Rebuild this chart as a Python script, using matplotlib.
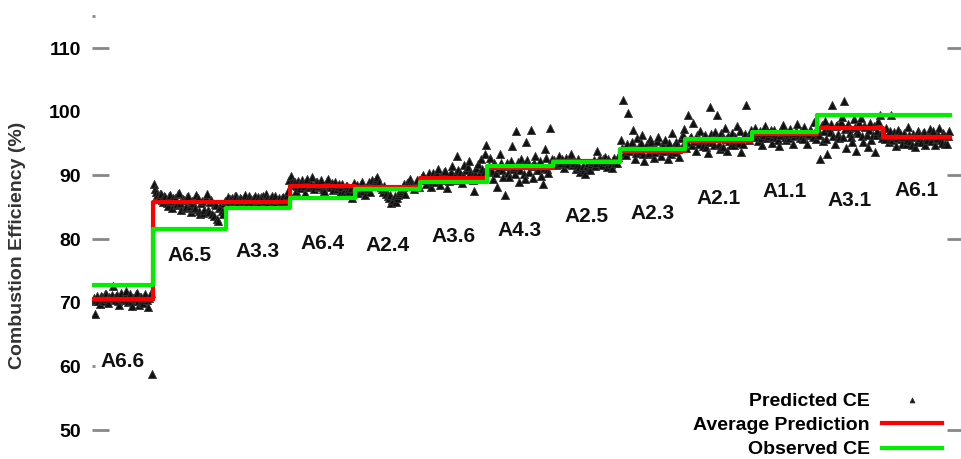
import numpy as np
import matplotlib.pyplot as plt

plt.rcParams['font.family'] = ['Liberation Sans', 'DejaVu Sans']

# test conditions, in run order
tests = ['A6.6', 'A6.5', 'A3.3', 'A6.4', 'A2.4', 'A3.6', 'A4.3',
         'A2.5', 'A2.3', 'A2.1', 'A1.1', 'A3.1', 'A6.1']
# number of samples recorded for each test
n_samples = [61, 73, 64, 65, 65, 67, 66, 67, 65, 67, 65, 66, 67]

observed_ce = [72.8, 81.6, 84.9, 86.4, 87.9, 89.0, 91.5,
               92.1, 94.1, 95.7, 96.8, 99.5, 99.5]
avg_pred = [70.6, 85.8, 85.8, 88.3, 88.2, 89.6, 91.2,
            92.2, 93.9, 95.4, 96.5, 97.4, 96.0]

# predicted CE per test (subsampled)
pred_a66 = [70.2, 70.8, 68.2, 70.5, 71.0, 70.2, 69.8, 71.1, 70.9, 70.4, 70.3, 71.3, 71.4, 70.6,
            69.9, 70.9, 70.8, 71.2, 72.6, 70.7, 70.4, 71.0, 71.2, 70.3, 69.7, 70.8, 71.5, 70.5,
            70.6, 71.1, 71.9, 70.4, 70.1, 70.9, 71.3, 70.2, 69.5, 70.8, 70.7, 71.4, 71.6, 70.3,
            69.6, 70.9, 70.9, 70.1, 70.0, 70.7, 71.4, 70.4, 69.4, 70.8, 71.0, 71.5, 58.8]
pred_a65 = [88.6, 87.8, 87.4, 86.9, 86.3, 87.1, 87.0, 86.2, 85.8, 86.7, 86.6, 85.6, 85.2, 86.8,
            86.9, 85.9, 84.8, 86.5, 86.4, 85.3, 85.5, 87.0, 87.2, 85.7, 84.6, 86.3, 86.1, 84.9,
            85.0, 86.6, 86.8, 85.2, 84.2, 86.0, 85.7, 84.7, 84.9, 86.9, 86.5, 84.4, 84.0, 85.6,
            85.9, 84.1, 84.5, 86.4, 87.1, 84.6, 84.3, 85.8, 86.2, 83.9, 83.6, 85.5, 85.4, 83.2,
            82.8, 84.8, 85.0, 84.4, 83.9, 85.7, 86.0]
pred_a33 = [86.2, 86.6, 85.7, 86.3, 86.5, 86.0, 85.9, 86.7, 86.8, 86.2, 85.6, 86.4, 86.3, 85.8,
            86.0, 86.5, 86.9, 86.1, 85.8, 86.7, 86.4, 85.9, 85.5, 86.3, 86.7, 86.0, 86.1, 86.6,
            85.7, 86.2, 86.6, 86.8, 86.0, 85.9, 87.1, 86.4, 85.8, 86.1, 86.4, 86.7, 85.9, 86.3,
            86.8, 85.8, 86.2, 86.5, 85.7, 86.0, 86.5, 86.6, 86.0, 86.3, 86.9, 87.6, 89.3]
pred_a64 = [89.9, 89.0, 88.5, 88.9, 87.6, 88.4, 89.1, 88.6, 88.0, 89.2, 88.8, 88.3, 87.3, 88.9,
            89.4, 88.1, 88.2, 88.7, 89.7, 88.4, 87.8, 89.0, 88.9, 88.2, 88.4, 88.7, 89.2, 87.9,
            87.5, 88.5, 88.6, 89.1, 89.5, 88.3, 88.1, 88.8, 87.7, 88.5, 89.0, 87.9, 88.3, 88.6,
            87.2, 88.1, 88.7, 87.6, 86.9, 88.3, 88.4, 87.8, 87.6, 88.0, 86.5, 87.4, 88.8]
pred_a24 = [88.0, 88.5, 87.2, 88.1, 88.6, 88.9, 87.6, 88.2, 86.9, 87.8, 88.3, 88.9, 87.4, 88.5,
            89.2, 89.0, 88.7, 89.4, 89.8, 88.6, 88.9, 88.2, 87.8, 87.4, 88.4, 87.9, 87.1, 86.8,
            86.4, 86.9, 85.6, 86.1, 86.2, 86.7, 85.8, 86.5, 86.9, 87.3, 87.5, 87.9, 88.2, 88.6,
            87.0, 88.3, 88.8, 89.1, 89.5, 88.9, 88.6, 88.3, 87.9, 88.7, 89.3, 88.5, 88.1]
pred_a36 = [89.3, 89.8, 90.1, 89.5, 88.6, 89.2, 89.8, 90.3, 88.2, 89.0, 90.4, 89.7, 89.0, 90.2,
            91.0, 89.4, 88.5, 89.9, 89.6, 90.5, 90.7, 89.3, 88.0, 89.1, 89.9, 90.6, 91.4, 89.8,
            89.2, 90.4, 93.0, 90.9, 90.3, 89.5, 88.8, 90.0, 91.7, 90.8, 89.5, 91.3, 92.2, 90.4,
            90.0, 89.2, 87.6, 90.2, 91.2, 91.8, 89.4, 90.5, 92.6, 91.0, 90.6, 93.4, 94.8]
pred_a43 = [90.5, 91.4, 92.8, 90.7, 89.4, 91.9, 91.6, 90.3, 88.2, 91.1, 93.4, 92.0, 90.9, 89.8,
            86.9, 91.5, 92.0, 90.4, 89.7, 92.3, 94.6, 91.0, 91.3, 90.2, 96.9, 92.1, 89.0, 90.8,
            92.5, 91.6, 90.2, 89.5, 95.3, 92.4, 91.8, 90.6, 97.1, 91.4, 89.6, 92.0, 93.1, 90.9,
            90.8, 91.7, 92.3, 89.9, 88.6, 91.2, 94.1, 92.7, 91.0, 90.3, 97.4, 91.8, 92.6]
pred_a25 = [92.4, 92.0, 91.6, 92.3, 93.0, 91.8, 92.0, 92.6, 91.2, 91.9, 92.7, 92.2, 91.8, 92.5,
            93.3, 91.7, 92.2, 92.0, 91.0, 91.6, 92.6, 91.3, 90.6, 91.2, 91.5, 90.9, 90.2, 91.4,
            91.9, 91.1, 90.8, 91.8, 92.1, 92.4, 91.4, 92.0, 93.9, 92.6, 92.5, 91.9, 91.7, 92.5,
            92.9, 92.1, 91.3, 92.6, 92.3, 91.8, 91.1, 92.4, 92.8, 92.0, 91.9, 92.9, 93.2]
pred_a23 = [95.6, 94.3, 101.8, 93.7, 93.2, 94.9, 99.8, 93.9, 94.5, 95.3, 97.1, 94.1, 92.6, 93.5,
            95.9, 94.6, 93.8, 95.1, 96.4, 93.4, 92.2, 94.5, 94.9, 93.3, 93.5, 95.7, 95.2, 94.2,
            92.8, 93.6, 94.2, 95.4, 96.0, 94.0, 93.1, 94.8, 94.7, 93.9, 95.5, 94.4, 92.5, 95.1,
            94.0, 93.3, 96.7, 94.6, 93.6, 95.2, 95.0, 94.1, 92.9, 95.8, 94.4, 96.3, 97.3]
pred_a21 = [94.3, 95.2, 99.5, 95.8, 96.1, 94.7, 98.2, 95.4, 93.8, 96.3, 95.7, 94.9, 97.0, 95.6,
            94.6, 96.0, 96.4, 94.4, 93.5, 95.3, 100.7, 96.5, 95.2, 94.8, 96.8, 95.9, 99.5, 95.0,
            94.1, 96.7, 95.9, 94.5, 97.4, 95.7, 93.9, 96.2, 95.4, 94.8, 96.6, 95.5, 94.8, 96.1,
            97.8, 95.3, 95.1, 96.9, 93.7, 95.0, 96.2, 96.5, 101.0, 95.8, 95.6, 96.3, 97.2]
pred_a11 = [96.3, 96.8, 97.5, 96.1, 95.4, 96.6, 96.9, 95.8, 94.8, 96.4, 97.8, 96.9, 95.9, 96.2,
            96.6, 97.1, 95.1, 96.0, 97.2, 96.5, 96.0, 95.6, 94.6, 96.3, 96.8, 97.4, 97.9, 96.1,
            95.5, 96.7, 96.4, 95.9, 97.3, 96.5, 95.0, 96.2, 96.7, 97.0, 98.1, 96.4, 95.8, 96.9,
            96.2, 95.7, 97.6, 96.6, 94.9, 96.3, 96.5, 97.1, 97.0, 96.0, 98.4, 96.8, 95.7]
pred_a31 = [97.2, 96.4, 92.6, 97.9, 95.4, 96.9, 98.6, 95.7, 93.4, 97.5, 96.8, 98.1, 101.0, 96.2,
            94.9, 97.7, 97.9, 96.5, 95.9, 98.4, 99.2, 96.0, 101.7, 97.3, 94.3, 98.0, 97.4, 96.6,
            96.1, 95.3, 98.8, 97.6, 93.9, 96.9, 96.6, 98.3, 99.0, 96.2, 95.2, 97.8, 97.6, 96.4,
            94.5, 97.1, 98.2, 95.6, 96.4, 97.7, 93.7, 96.3, 97.0, 98.5, 99.4, 96.7, 95.8]
pred_a61 = [96.3, 95.7, 97.4, 96.4, 95.2, 96.9, 99.4, 95.5, 96.8, 96.2, 94.6, 95.8, 97.1, 96.6,
            95.7, 95.0, 96.0, 96.7, 94.9, 95.6, 97.6, 96.3, 95.4, 94.8, 96.5, 96.1, 94.4, 95.3,
            97.0, 96.5, 95.9, 95.2, 96.7, 96.8, 94.8, 95.9, 95.6, 96.3, 97.3, 95.4, 96.2, 96.9,
            94.7, 95.7, 95.8, 96.4, 97.5, 95.5, 95.1, 96.6, 96.4, 95.0, 94.9, 96.2, 96.9]

predicted = [pred_a66, pred_a65, pred_a33, pred_a64, pred_a24, pred_a36, pred_a43,
             pred_a25, pred_a23, pred_a21, pred_a11, pred_a31, pred_a61]

# where the test name sits under each block
label_y = [60.8, 77.4, 78.0, 79.3, 79.0, 80.4, 81.3, 83.5, 84.0, 86.4, 87.5, 86.0, 87.6]

edges = np.concatenate([[0], np.cumsum(n_samples)])

fig = plt.figure(figsize=(9.61, 4.59), dpi=100)
ax = fig.add_axes([92 / 961, 0, 872 / 961, 1])

xs = [np.linspace(edges[i] + 1, edges[i + 1] - 1, len(v)) for i, v in enumerate(predicted)]
ax.scatter(np.concatenate(xs), np.concatenate(predicted), marker='^', s=34, c='#111111',
           edgecolors='#333333', linewidths=0.6, label='Predicted CE', zorder=2)

ax.step(edges, np.append(avg_pred, avg_pred[-1]), where='post', color='#ff0000',
        lw=3, label='Average Prediction', zorder=3)
ax.step(edges, np.append(observed_ce, observed_ce[-1]), where='post', color='#00ee00',
        lw=3, label='Observed CE', zorder=4)

for i, name in enumerate(tests):
    ax.text((edges[i] + edges[i + 1]) / 2, label_y[i], name, ha='center', va='center',
            fontsize=15, fontweight='bold', color='#111111')

ax.set_xlim(0, 872)
ax.set_ylim(45.45, 117.54)
for s in ax.spines.values():
    s.set_visible(False)
ax.set_xticks([])

yticks = [50, 60, 70, 80, 90, 100, 110]
ax.set_yticks(yticks)
ax.set_yticks([115], minor=True)
ax.tick_params(axis='y', which='major', direction='in', length=12, width=2,
               color='#888888', labelsize=14, pad=8, right=True)
ax.tick_params(axis='y', which='minor', direction='in', length=2.5, width=2,
               color='#888888', labelleft=False)
for lbl in ax.get_yticklabels():
    lbl.set_fontweight('bold')
for val, tick in zip(yticks, ax.yaxis.get_major_ticks()):
    if val == 100:
        tick.tick1line.set_visible(False)
    if val == 60:
        tick.tick1line.set_markersize(2.5)
    if val in (60, 70, 100):
        tick.tick2line.set_visible(False)

fig.text(18 / 961, 1 - 245 / 459, 'Combustion Efficiency (%)', rotation=90,
         ha='center', va='center', fontsize=14, fontweight='bold', color='#333333')

ax.legend(loc='lower right', bbox_to_anchor=(0.9837, -0.0157), borderaxespad=0,
          markerfirst=False, frameon=False, scatterpoints=1, markerscale=0.6,
          handlelength=3.1, handletextpad=0.6, labelspacing=0.35,
          prop={'weight': 'bold', 'size': 14})

fig.savefig('out.png', dpi=100)
